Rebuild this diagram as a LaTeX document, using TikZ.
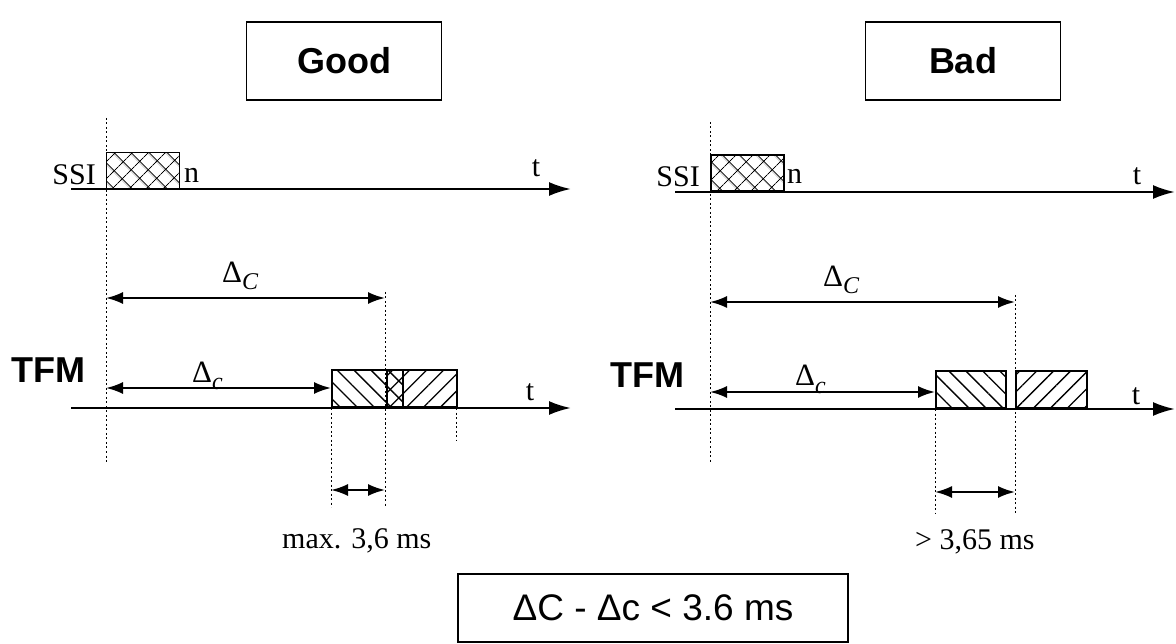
\documentclass[tikz,border=0pt]{standalone}
\usepackage{fontspec}
\setmainfont{Liberation Serif}
\setsansfont{Liberation Sans}
\usetikzlibrary{arrows.meta, patterns.meta}

\newcommand{\deltasub}[1]{Δ\raisebox{-7pt}{\fontsize{24}{24}\selectfont\itshape #1}}

\begin{document}
\begin{tikzpicture}[x=1pt, y=-1pt,
    titlebox/.style={rectangle, draw, line width=1.5pt, minimum width=195pt, minimum height=78pt, inner sep=0pt, font=\sffamily\bfseries\fontsize{36}{36}\selectfont},
    formula/.style={rectangle, draw, line width=1.5pt, minimum width=390pt, minimum height=68pt, inner sep=0pt, font=\sffamily\fontsize{37}{37}\selectfont},
    signal/.style={inner sep=0pt, font=\fontsize{30}{30}\selectfont},
    tfm/.style={inner sep=0pt, font=\sffamily\bfseries\fontsize{36}{36}\selectfont},
    delta/.style={inner sep=0pt, font=\fontsize{31}{31}\selectfont},
    crossbox/.style={draw, line width=1.8pt, inner sep=0pt, minimum width=73pt, minimum height=36pt, pattern={Hatch[angle=45, distance=13pt, line width=1pt]}},
    leftbox/.style={draw, line width=1.8pt, inner sep=0pt, minimum height=37pt, pattern={Lines[angle=-45, distance=12pt, line width=1.3pt]}},
    rightbox/.style={draw, line width=1.8pt, inner sep=0pt, minimum height=37pt, pattern={Lines[angle=45, distance=12pt, line width=1.3pt]}},
    timeaxis/.style={line width=2.4pt, -{Latex[length=22pt, width=14pt]}},
    dimarrow/.style={line width=2pt, {Latex[length=17pt, width=12pt]}-{Latex[length=17pt, width=12pt]}},
    guide/.style={line width=0.9pt, dash pattern=on 2pt off 2.5pt}
]
\useasboundingbox (0,0) rectangle (1176,644);

% Good
\node[titlebox] (good) at (344,61) {Good};
\coordinate (gs0) at (71,189);
\coordinate (gs1) at (571,189);
\coordinate (gt0) at (71,408);
\coordinate (gt1) at (571,408);
\coordinate (ga0) at (106,118);
\coordinate (ga1) at (106,462);
\coordinate (gb0) at (385,292);
\coordinate (gb1) at (385,507);
\coordinate (gd0) at (331,408);
\coordinate (gd1) at (331,507);
\coordinate (ge0) at (456,408);
\coordinate (ge1) at (456,440);
\coordinate (gC0) at (106,298);
\coordinate (gC1) at (385,298);
\coordinate (gc0) at (106,388);
\coordinate (gc1) at (331,388);
\coordinate (gm0) at (331,490);
\coordinate (gm1) at (385,490);

\node[crossbox, anchor=south west] (gssibox) at (106,189) {};
\node[signal, anchor=base east] (gssi) at (96,185) {SSI};
\node[signal, anchor=base west] (gn) at (184,183) {n};
\node[signal, anchor=base] (gts) at (536,177) {t};
\node[delta, anchor=base west] (gClab) at (222,283) {\deltasub{C}};
\node[tfm, anchor=base west] (gtfm) at (11,383) {TFM};
\node[delta, anchor=base west] (gclab) at (192,382) {\deltasub{c}};
\node[leftbox, minimum width=71pt, anchor=south west] (gf1) at (331,408) {};
\node[rightbox, minimum width=70pt, anchor=south west] (gf2) at (386,408) {};
\node[signal, anchor=base] (gtt) at (530,400) {t};
\node[signal, anchor=base west] (gmax) at (282,548) {max. 3,6 ms};

\draw[guide] (ga0) -- (ga1);
\draw[guide] (gb0) -- (gb1);
\draw[guide] (gd0) -- (gd1);
\draw[guide] (ge0) -- (ge1);
\draw[timeaxis] (gs0) -- (gs1);
\draw[timeaxis] (gt0) -- (gt1);
\draw[dimarrow] (gC0) -- (gC1);
\draw[dimarrow] (gc0) -- (gc1);
\draw[dimarrow] (gm0) -- (gm1);

% Bad
\node[titlebox] (bad) at (963,61) {Bad};
\coordinate (bs0) at (675,192);
\coordinate (bs1) at (1175,192);
\coordinate (bt0) at (675,409);
\coordinate (bt1) at (1175,409);
\coordinate (ba0) at (710,122);
\coordinate (ba1) at (710,463);
\coordinate (bb0) at (1015,295);
\coordinate (bb1) at (1015,513);
\coordinate (bd0) at (935,409);
\coordinate (bd1) at (935,513);
\coordinate (bC0) at (710,302);
\coordinate (bC1) at (1015,302);
\coordinate (bc0) at (710,392);
\coordinate (bc1) at (935,392);
\coordinate (bm0) at (935,492);
\coordinate (bm1) at (1015,492);

\node[crossbox, anchor=south west] (bssibox) at (710,192) {};
\node[signal, anchor=base east] (bssi) at (700,187) {SSI};
\node[signal, anchor=base west] (bn) at (787,184) {n};
\node[signal, anchor=base] (bts) at (1137,185) {t};
\node[delta, anchor=base west] (bClab) at (823,287) {\deltasub{C}};
\node[tfm, anchor=base west] (btfm) at (610,388) {TFM};
\node[delta, anchor=base west] (bclab) at (795,386) {\deltasub{c}};
\node[leftbox, minimum width=70pt, anchor=south west] (bf1) at (935,409) {};
\node[rightbox, minimum width=71pt, anchor=south west] (bf2) at (1015,409) {};
\node[signal, anchor=base] (btt) at (1136,404) {t};
\node[signal, anchor=base west] (bmin) at (915,549) {> 3,65 ms};

\draw[guide] (ba0) -- (ba1);
\draw[guide] (bb0) -- (bb1);
\draw[guide] (bd0) -- (bd1);
\draw[timeaxis] (bs0) -- (bs1);
\draw[timeaxis] (bt0) -- (bt1);
\draw[dimarrow] (bC0) -- (bC1);
\draw[dimarrow] (bc0) -- (bc1);
\draw[dimarrow] (bm0) -- (bm1);

% rule
\node[formula] (rule) at (653,608) {ΔC - Δc < 3.6 ms};
\end{tikzpicture}
\end{document}
